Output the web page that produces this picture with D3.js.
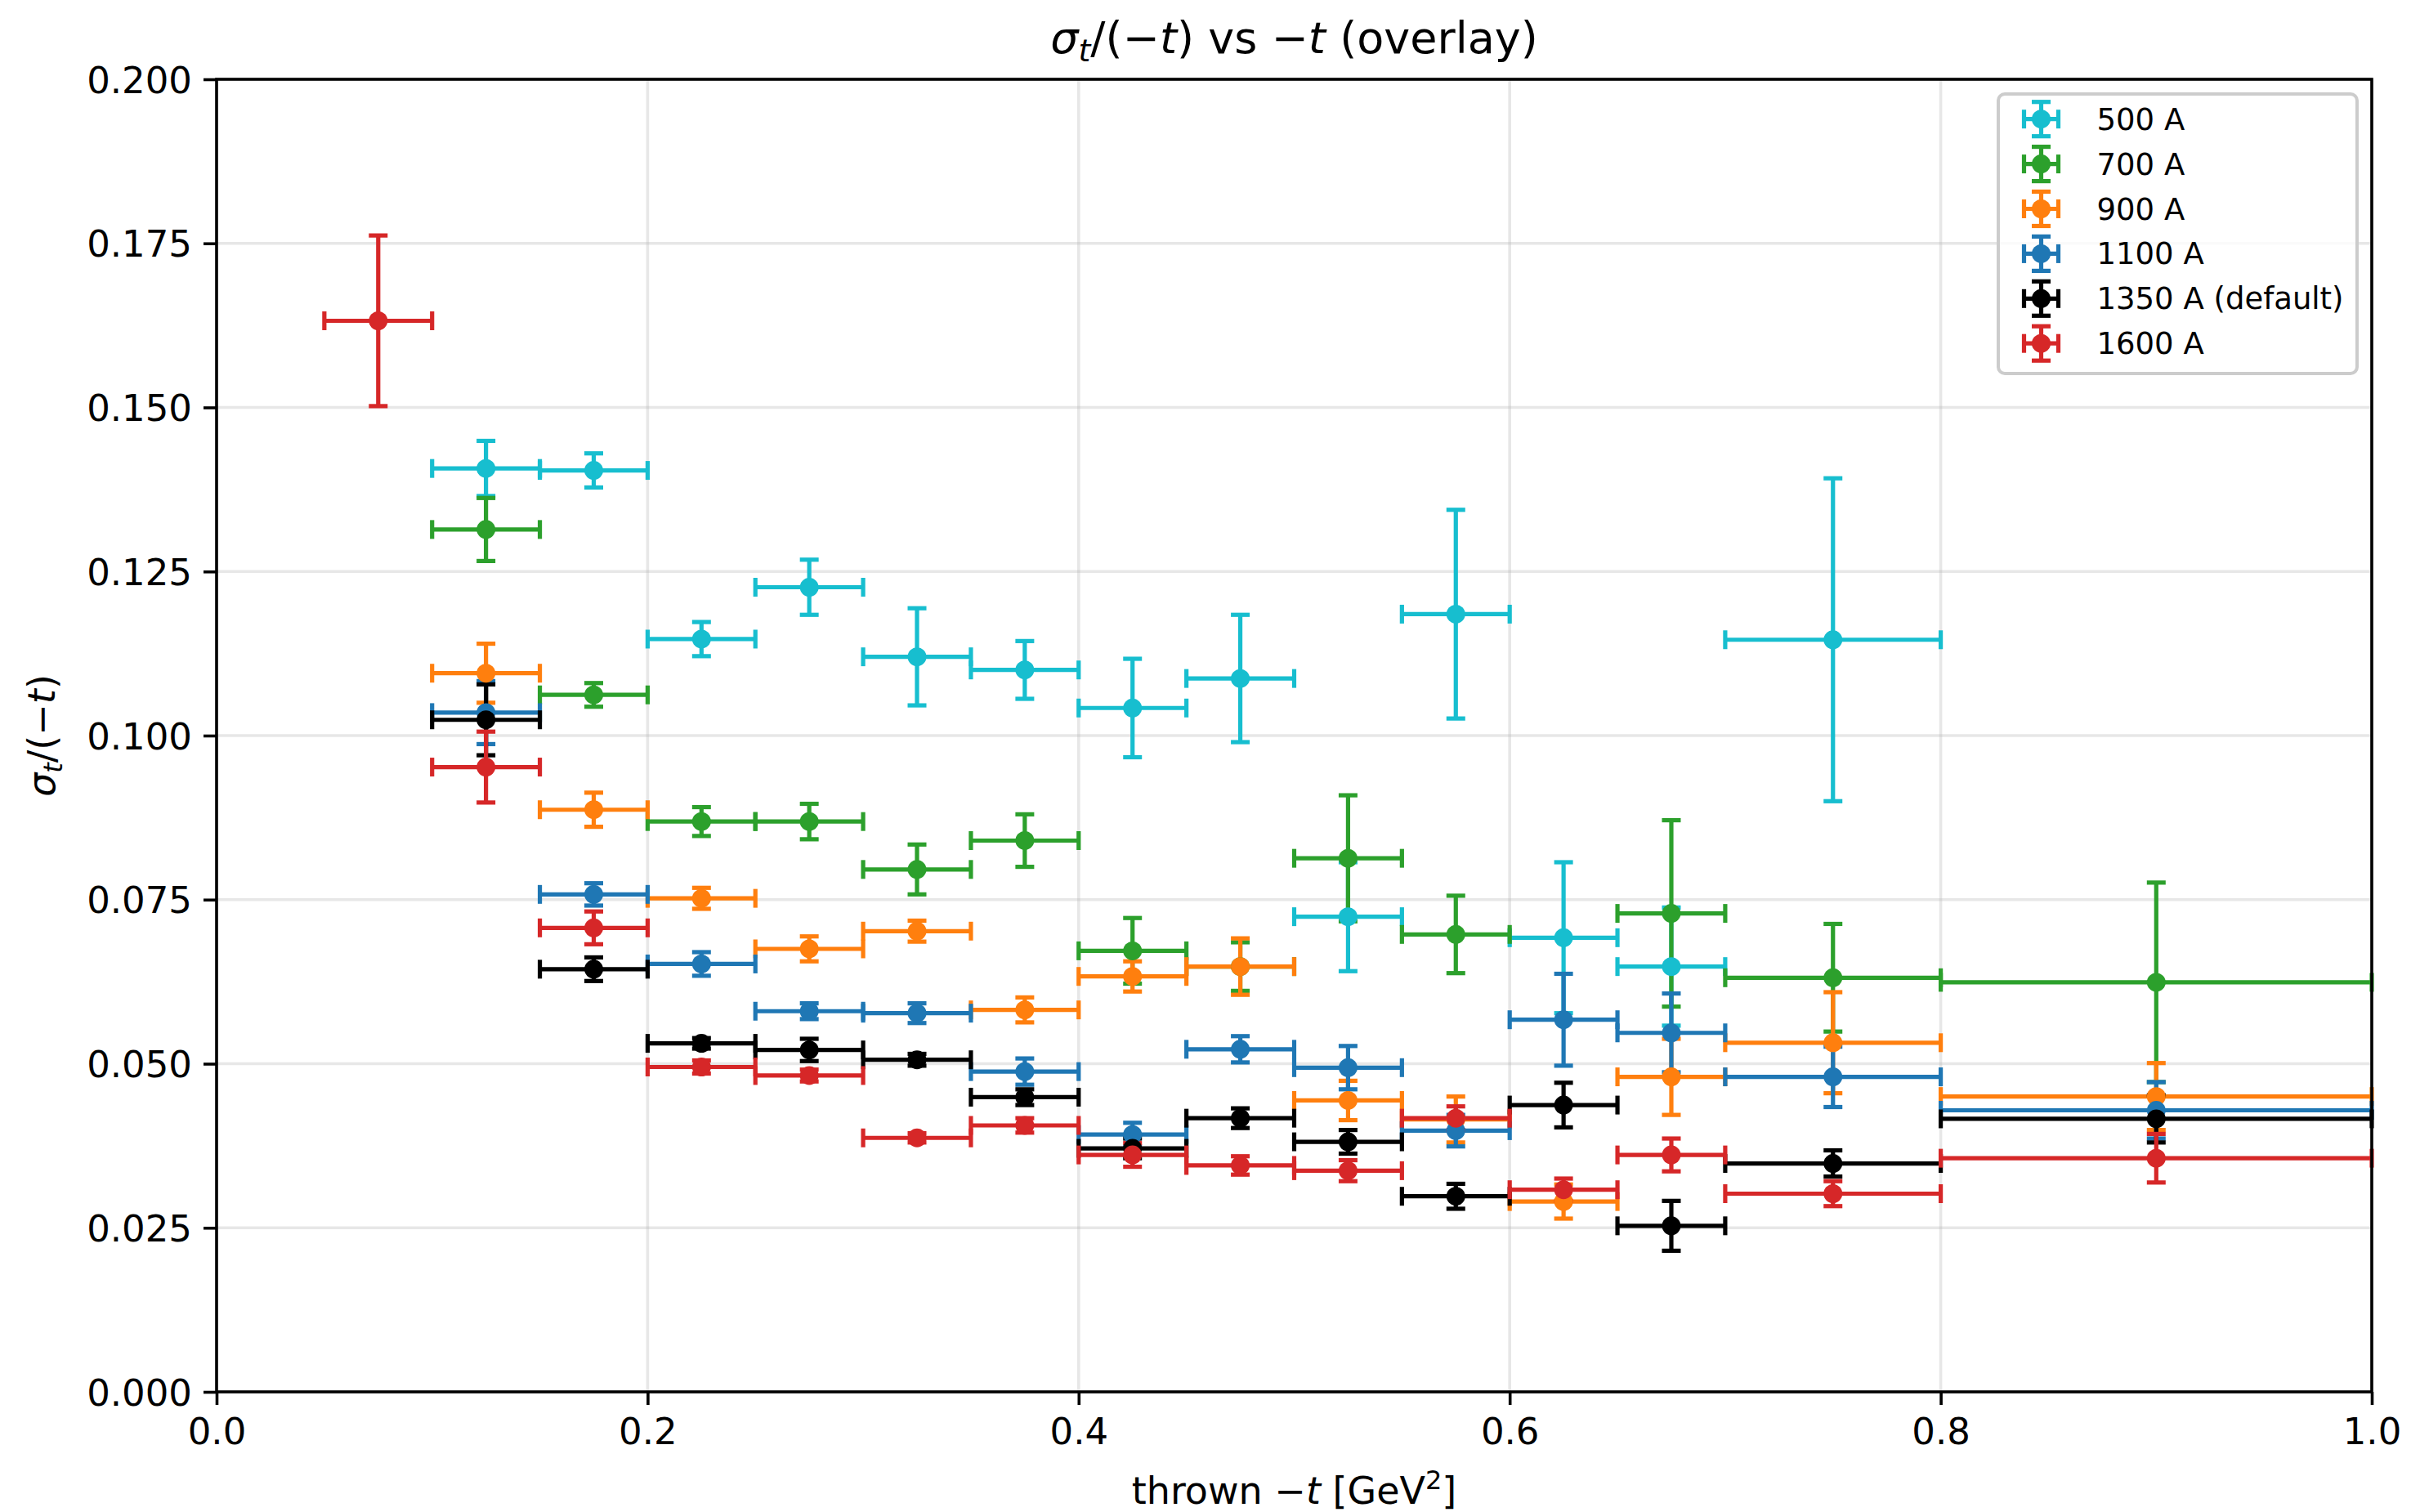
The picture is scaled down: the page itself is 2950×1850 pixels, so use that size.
<!DOCTYPE html>
<html>
<head>
<meta charset="utf-8">
<script src="https://cdn.jsdelivr.net/npm/d3@7"></script>
<style>
body { margin: 0; background: #fff; }
text { font-family: "DejaVu Sans", sans-serif; fill: #000; }
</style>
</head>
<body>
<svg id="chart" width="2950" height="1850"></svg>
<script>
// bins in thrown -t, each series has one value per bin (null = empty bin)
var binEdges = [0.05, 0.10, 0.15, 0.20, 0.25, 0.30, 0.35, 0.40, 0.45, 0.50, 0.55, 0.60, 0.65, 0.70, 0.80, 1.00];

var seriesNames = ['500 A', '700 A', '900 A', '1100 A', '1350 A (default)', '1600 A'];
var seriesColors = ['#17becf', '#2ca02c', '#ff7f0e', '#1f77b4', '#000000', '#d62728'];

var vals500 = [null, 0.1407, 0.1404, 0.1147, 0.1226, 0.1120, 0.1100, 0.1042, 0.1087, 0.0724, 0.1185, 0.0692, 0.0648, 0.1146, null];
var err500 = [null, 0.0042, 0.0026, 0.0026, 0.0042, 0.0074, 0.0044, 0.0075, 0.0097, 0.0083, 0.0159, 0.0115, 0.0090, 0.0246, null];

var vals700 = [null, 0.1314, 0.1062, 0.0869, 0.0869, 0.0796, 0.0840, 0.0672, 0.0648, 0.0813, 0.0697, null, 0.0729, 0.0631, 0.0624];
var err700 = [null, 0.0048, 0.0018, 0.0022, 0.0027, 0.0038, 0.0040, 0.0050, 0.0037, 0.0096, 0.0059, null, 0.0142, 0.0082, 0.0152];

var vals900 = [null, 0.1095, 0.0887, 0.0752, 0.0675, 0.0702, 0.0582, 0.0633, 0.0648, 0.0444, 0.0415, 0.0290, 0.0480, 0.0532, 0.0450];
var err900 = [null, 0.0045, 0.0026, 0.0016, 0.0019, 0.0016, 0.0019, 0.0023, 0.0043, 0.0030, 0.0035, 0.0026, 0.0058, 0.0077, 0.0051];

var vals1100 = [null, 0.1035, 0.0758, 0.0652, 0.0580, 0.0577, 0.0488, 0.0392, 0.0522, 0.0494, 0.0398, 0.0567, 0.0547, 0.0480, 0.0429];
var err1100 = [null, 0.0048, 0.0017, 0.0018, 0.0012, 0.0015, 0.0020, 0.0018, 0.0020, 0.0033, 0.0024, 0.0070, 0.0060, 0.0046, 0.0043];

var vals1350 = [null, 0.1024, 0.0644, 0.0531, 0.0521, 0.0506, 0.0449, 0.0371, 0.0417, 0.0381, 0.0298, 0.0437, 0.0253, 0.0348, 0.0416];
var err1350 = [null, 0.0054, 0.0018, 0.0008, 0.0017, 0.0009, 0.0012, 0.0015, 0.0015, 0.0018, 0.0019, 0.0034, 0.0038, 0.0020, 0.0036];

var vals1600 = [0.1632, 0.0952, 0.0707, 0.0495, 0.0482, 0.0387, 0.0406, 0.0361, 0.0345, 0.0337, 0.0417, 0.0308, 0.0361, 0.0302, 0.0356];
var err1600 = [0.0130, 0.0054, 0.0025, 0.0010, 0.0009, 0.0007, 0.0011, 0.0018, 0.0014, 0.0016, 0.0018, 0.0017, 0.0025, 0.0019, 0.0037];

var xTicks = [0, 0.2, 0.4, 0.6, 0.8, 1.0];
var yTicks = [0, 0.025, 0.05, 0.075, 0.1, 0.125, 0.15, 0.175, 0.2];

var seriesVals = [vals500, vals700, vals900, vals1100, vals1350, vals1600];
var seriesErrs = [err500, err700, err900, err1100, err1350, err1600];

var W = 2950, H = 1850;
var margin = {top: 97, right: 48, bottom: 147, left: 265};
var pw = W - margin.left - margin.right;
var ph = H - margin.top - margin.bottom;

var lw = 5.2;       // error bar line width
var cap = 11.5;     // half cap length
var mr = 11.5;      // marker radius
var tickFont = 45;

var svg = d3.select('#chart');
svg.append('rect').attr('width', W).attr('height', H).attr('fill', '#fff');

var xs = d3.scaleLinear().domain([0, 1]).range([margin.left, margin.left + pw]);
var ys = d3.scaleLinear().domain([0, 0.2]).range([margin.top + ph, margin.top]);

// build point table
var points = [];
seriesVals.forEach(function (vals, s) {
    vals.forEach(function (v, i) {
        if (v == null) return;
        points.push({
            s: s,
            lo: binEdges[i],
            hi: binEdges[i + 1],
            x: (binEdges[i] + binEdges[i + 1]) / 2,
            v: v,
            e: seriesErrs[s][i],
            color: seriesColors[s]
        });
    });
});

// grid
var grid = svg.append('g');
grid.selectAll('line.gx').data(xTicks).enter().append('line')
    .attr('x1', function (d) { return xs(d); })
    .attr('x2', function (d) { return xs(d); })
    .attr('y1', margin.top).attr('y2', margin.top + ph)
    .attr('stroke', '#b0b0b0').attr('stroke-opacity', 0.3).attr('stroke-width', 3.6);
grid.selectAll('line.gy').data(yTicks).enter().append('line')
    .attr('y1', function (d) { return ys(d); })
    .attr('y2', function (d) { return ys(d); })
    .attr('x1', margin.left).attr('x2', margin.left + pw)
    .attr('stroke', '#b0b0b0').attr('stroke-opacity', 0.3).attr('stroke-width', 3.6);

// error bars first, markers on top
var bars = svg.append('g').attr('stroke-width', lw);
var pg = bars.selectAll('g').data(points).enter().append('g')
    .attr('stroke', function (d) { return d.color; });
pg.append('line')
    .attr('x1', function (d) { return xs(d.lo); })
    .attr('x2', function (d) { return xs(d.hi); })
    .attr('y1', function (d) { return ys(d.v); })
    .attr('y2', function (d) { return ys(d.v); });
pg.append('line')
    .attr('x1', function (d) { return xs(d.x); })
    .attr('x2', function (d) { return xs(d.x); })
    .attr('y1', function (d) { return ys(d.v - d.e); })
    .attr('y2', function (d) { return ys(d.v + d.e); });
['lo', 'hi'].forEach(function (k) {
    pg.append('line')
        .attr('x1', function (d) { return xs(d[k]); })
        .attr('x2', function (d) { return xs(d[k]); })
        .attr('y1', function (d) { return ys(d.v) - cap; })
        .attr('y2', function (d) { return ys(d.v) + cap; });
});
[-1, 1].forEach(function (sg) {
    pg.append('line')
        .attr('x1', function (d) { return xs(d.x) - cap; })
        .attr('x2', function (d) { return xs(d.x) + cap; })
        .attr('y1', function (d) { return ys(d.v + sg * d.e); })
        .attr('y2', function (d) { return ys(d.v + sg * d.e); });
});

svg.append('g').selectAll('circle').data(points).enter().append('circle')
    .attr('cx', function (d) { return xs(d.x); })
    .attr('cy', function (d) { return ys(d.v); })
    .attr('r', mr)
    .attr('fill', function (d) { return d.color; });

// axes
var xAxis = d3.axisBottom(xs).tickValues(xTicks).tickFormat(d3.format('.1f')).tickSize(16).tickPadding(14);
var yAxis = d3.axisLeft(ys).tickValues(yTicks).tickFormat(d3.format('.3f')).tickSize(16).tickPadding(14);

var gx = svg.append('g').attr('transform', 'translate(0,' + (margin.top + ph) + ')').call(xAxis);
var gy = svg.append('g').attr('transform', 'translate(' + margin.left + ',0)').call(yAxis);
[gx, gy].forEach(function (g) {
    g.select('.domain').remove();
    g.selectAll('.tick line').attr('stroke', '#000').attr('stroke-width', 3.6);
    g.selectAll('.tick text').attr('font-size', tickFont).attr('font-family', 'DejaVu Sans').attr('fill', '#000');
});
gx.selectAll('.tick text').attr('dy', '0.76em');
gy.selectAll('.tick text').attr('dy', '0.36em');

svg.append('rect')
    .attr('x', margin.left).attr('y', margin.top)
    .attr('width', pw).attr('height', ph)
    .attr('fill', 'none').attr('stroke', '#000').attr('stroke-width', 3.6);

// title
var title = svg.append('text')
    .attr('x', margin.left + pw / 2).attr('y', 65)
    .attr('text-anchor', 'middle').attr('font-size', 54);
title.append('tspan').attr('font-style', 'italic').text('σ');
title.append('tspan').attr('font-style', 'italic').attr('font-size', 38).attr('dy', 10).text('t');
title.append('tspan').attr('dy', -10).text('/(−');
title.append('tspan').attr('font-style', 'italic').text('t');
title.append('tspan').text(') vs −');
title.append('tspan').attr('font-style', 'italic').text('t');
title.append('tspan').text(' (overlay)');

// x label
var xl = svg.append('text')
    .attr('x', margin.left + pw / 2).attr('y', 1840)
    .attr('text-anchor', 'middle').attr('font-size', 46);
xl.append('tspan').text('thrown −');
xl.append('tspan').attr('font-style', 'italic').text('t');
xl.append('tspan').text(' [GeV');
xl.append('tspan').attr('font-size', 32).attr('dy', -18).text('2');
xl.append('tspan').attr('dy', 18).text(']');

// y label
var yl = svg.append('text')
    .attr('transform', 'translate(67,' + (margin.top + ph / 2) + ') rotate(-90)')
    .attr('text-anchor', 'middle').attr('font-size', 46);
yl.append('tspan').attr('font-style', 'italic').text('σ');
yl.append('tspan').attr('font-style', 'italic').attr('font-size', 32).attr('dy', 9).text('t');
yl.append('tspan').attr('dy', -9).text('/(−');
yl.append('tspan').attr('font-style', 'italic').text('t');
yl.append('tspan').text(')');

// legend
var leg = svg.append('g');
leg.append('rect')
    .attr('x', 2445).attr('y', 115).attr('width', 439).attr('height', 342).attr('rx', 8)
    .attr('fill', '#fff').attr('fill-opacity', 0.8)
    .attr('stroke', '#cccccc').attr('stroke-width', 4);

var rows = leg.selectAll('g.row').data(seriesNames).enter().append('g')
    .attr('transform', function (d, i) { return 'translate(2497.5,' + (145.7 + i * 54.9) + ')'; });
var hs = 21;
rows.each(function (d, i) {
    var g = d3.select(this).attr('stroke', seriesColors[i]).attr('stroke-width', lw);
    g.append('line').attr('x1', -hs).attr('x2', hs).attr('y1', 0).attr('y2', 0);
    g.append('line').attr('x1', 0).attr('x2', 0).attr('y1', -hs).attr('y2', hs);
    g.append('line').attr('x1', -hs).attr('x2', -hs).attr('y1', -cap).attr('y2', cap);
    g.append('line').attr('x1', hs).attr('x2', hs).attr('y1', -cap).attr('y2', cap);
    g.append('line').attr('x1', -cap).attr('x2', cap).attr('y1', -hs).attr('y2', -hs);
    g.append('line').attr('x1', -cap).attr('x2', cap).attr('y1', hs).attr('y2', hs);
    g.append('circle').attr('r', mr).attr('fill', seriesColors[i]).attr('stroke', 'none');
    g.append('text').attr('x', 68).attr('y', 13).attr('stroke', 'none')
        .attr('font-size', 37).text(d);
});
</script>
</body>
</html>
